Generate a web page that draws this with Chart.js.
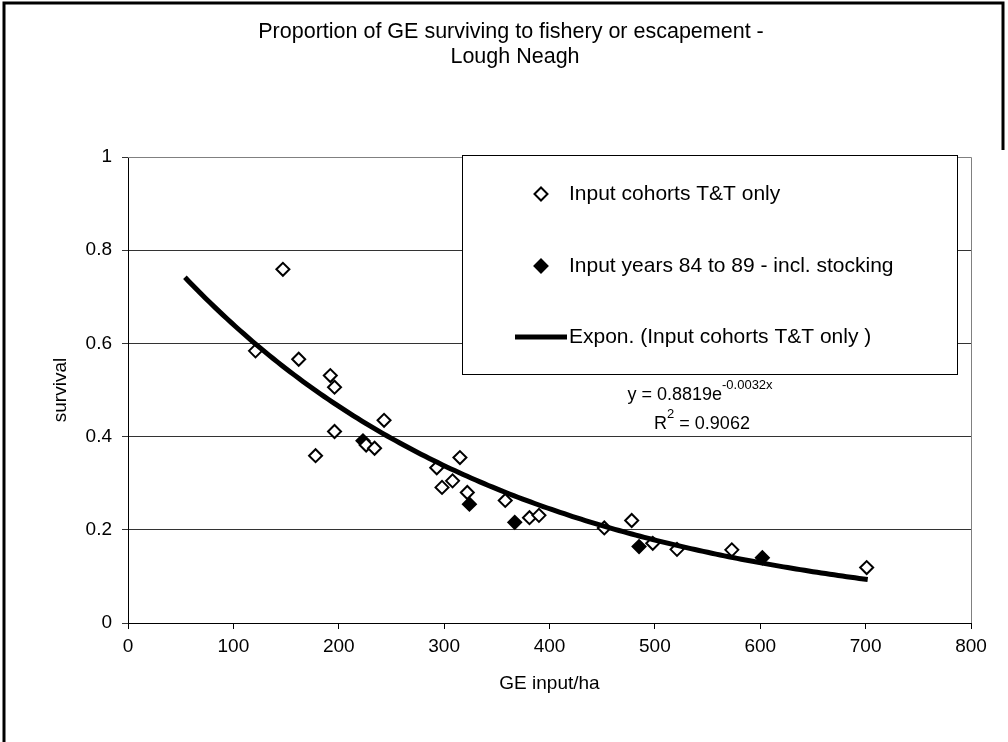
<!DOCTYPE html>
<html>
<head>
<meta charset="utf-8">
<script src="https://cdn.jsdelivr.net/npm/chart.js@4.4.1/dist/chart.umd.min.js"></script>
<style>
  html, body { margin: 0; padding: 0; background: #fff; }
  #wrap { position: relative; width: 1008px; height: 742px; }
</style>
</head>
<body>
<div id="wrap"><canvas id="survivalChart" width="1008" height="742"></canvas></div>
<script>
// cohorts with trap & transport only
const cohortInput    = [147, 121, 162, 192, 196, 243, 196, 178, 226, 234, 293, 315, 298, 308, 322, 358, 381, 390, 452, 478, 498, 521, 573, 701];
const cohortSurvival = [0.759, 0.584, 0.566, 0.531, 0.506, 0.435, 0.411, 0.359, 0.382, 0.375, 0.333, 0.355, 0.291, 0.305, 0.280, 0.263, 0.226, 0.231, 0.204, 0.220, 0.171, 0.158, 0.157, 0.119];

// input years 84 to 89, stocking included
const stockedInput    = [223, 324, 367, 485, 602];
const stockedSurvival = [0.391, 0.255, 0.216, 0.164, 0.140];

// exponential trendline fitted on the cohorts: y = a * e^(b * x)
const trendA = 0.8819;
const trendB = -0.0032;
const trendR2 = 0.9062;
const trendFrom = 54;
const trendTo = 702;

const xTicks = [0, 100, 200, 300, 400, 500, 600, 700, 800];
const yTicks = [0, 0.2, 0.4, 0.6, 0.8, 1];

const labels = [
  'Input cohorts T&T only',
  'Input years 84 to 89 - incl. stocking',
  'Expon. (Input cohorts T&T only )'
];

const FONT = 'Liberation Sans, Arial, sans-serif';

const trendPoints = [];
for (let x = trendFrom; x <= trendTo; x += 4) {
  trendPoints.push({ x: x, y: trendA * Math.exp(trendB * x) });
}

function pairs(xs, ys) {
  return xs.map((x, i) => ({ x: x, y: ys[i] }));
}

function diamond(ctx, x, y, r, fill) {
  ctx.beginPath();
  ctx.moveTo(x - r, y);
  ctx.lineTo(x, y - r);
  ctx.lineTo(x + r, y);
  ctx.lineTo(x, y + r);
  ctx.closePath();
  ctx.fillStyle = fill;
  ctx.fill();
  ctx.lineWidth = 2;
  ctx.strokeStyle = '#000';
  ctx.stroke();
}

// text with a raised small part, centred on cx
function supText(ctx, parts, cx, y) {
  const big = '18px ' + FONT, small = '13px ' + FONT;
  let total = 0;
  parts.forEach(p => { ctx.font = p.sup ? small : big; p.w = ctx.measureText(p.t).width; total += p.w; });
  let x = cx - total / 2;
  parts.forEach(p => {
    ctx.font = p.sup ? small : big;
    ctx.fillText(p.t, x, p.sup ? y - 10 : y);
    x += p.w;
  });
}

// titles, frame, legend box and the trendline equation
const decorations = {
  id: 'decorations',
  beforeDraw(chart) {
    const ctx = chart.ctx;
    ctx.save();
    ctx.fillStyle = '#fff';
    ctx.fillRect(0, 0, chart.width, chart.height);
    ctx.restore();
  },
  afterDatasetsDraw(chart) {
    const ctx = chart.ctx;
    const area = chart.chartArea;
    ctx.save();

    // plot area border (top and right)
    ctx.strokeStyle = '#808080';
    ctx.lineWidth = 1;
    ctx.beginPath();
    ctx.moveTo(area.left, area.top + 0.5);
    ctx.lineTo(area.right + 0.5, area.top + 0.5);
    ctx.lineTo(area.right + 0.5, area.bottom);
    ctx.stroke();

    // outer frame
    ctx.strokeStyle = '#000';
    ctx.lineWidth = 3;
    ctx.beginPath();
    ctx.moveTo(4, chart.height);
    ctx.lineTo(4, 3);
    ctx.lineTo(1003, 3);
    ctx.lineTo(1003, 150);
    ctx.stroke();

    // chart title
    ctx.fillStyle = '#000';
    ctx.font = '21.5px ' + FONT;
    ctx.textAlign = 'center';
    ctx.textBaseline = 'middle';
    ctx.fillText('Proportion of GE surviving to fishery or escapement -', 511, 32);
    ctx.fillText('Lough Neagh', 515, 57);

    // axis titles
    ctx.font = '19px ' + FONT;
    ctx.fillText('GE input/ha', (area.left + area.right) / 2, 684);
    ctx.save();
    ctx.translate(61, (area.top + area.bottom) / 2);
    ctx.rotate(-Math.PI / 2);
    ctx.fillText('survival', 0, 0);
    ctx.restore();

    // legend
    const box = { left: 462, top: 155, right: 957, bottom: 374 };
    ctx.fillStyle = '#fff';
    ctx.fillRect(box.left, box.top, box.right - box.left, box.bottom - box.top);
    ctx.strokeStyle = '#000';
    ctx.lineWidth = 1;
    ctx.strokeRect(box.left + 0.5, box.top + 0.5, box.right - box.left, box.bottom - box.top);

    const rows = [194, 266, 337];
    diamond(ctx, 541, rows[0], 6.5, '#fff');
    diamond(ctx, 541, rows[1], 6.5, '#000');
    ctx.lineWidth = 5;
    ctx.beginPath();
    ctx.moveTo(515, rows[2]);
    ctx.lineTo(567, rows[2]);
    ctx.stroke();

    ctx.fillStyle = '#000';
    ctx.font = '21px ' + FONT;
    ctx.textAlign = 'left';
    labels.forEach((t, i) => ctx.fillText(t, 569, rows[i]));

    // trendline equation and R squared
    supText(ctx, [{ t: 'y = ' + trendA + 'e' }, { t: trendB + 'x', sup: true }], 700, 395);
    supText(ctx, [{ t: 'R' }, { t: '2', sup: true }, { t: ' = ' + trendR2 }], 702, 424);

    ctx.restore();
  }
};

new Chart(document.getElementById('survivalChart'), {
  type: 'scatter',
  data: {
    datasets: [
      {
        type: 'line',
        label: labels[2],
        data: trendPoints,
        borderColor: '#000',
        borderWidth: 5,
        pointRadius: 0,
        tension: 0,
        order: 0
      },
      {
        label: labels[0],
        data: pairs(cohortInput, cohortSurvival),
        pointStyle: 'rectRot',
        pointRadius: 6.5,
        pointBackgroundColor: '#fff',
        pointBorderColor: '#000',
        pointBorderWidth: 2,
        order: 1
      },
      {
        label: labels[1],
        data: pairs(stockedInput, stockedSurvival),
        pointStyle: 'rectRot',
        pointRadius: 6.5,
        pointBackgroundColor: '#000',
        pointBorderColor: '#000',
        pointBorderWidth: 2,
        order: 2
      }
    ]
  },
  options: {
    responsive: false,
    animation: false,
    devicePixelRatio: 1,
    layout: { padding: { top: 157, right: 37, left: 0, bottom: 0 } },
    plugins: {
      legend: { display: false },
      title: { display: false },
      tooltip: { enabled: false }
    },
    scales: {
      x: {
        type: 'linear',
        min: 0,
        max: 800,
        afterBuildTicks: s => { s.ticks = xTicks.map(v => ({ value: v })); },
        afterFit: s => { s.height = 119; },
        grid: { drawOnChartArea: false, drawTicks: true, tickLength: 6, color: '#000' },
        border: { color: '#000', width: 1 },
        ticks: { color: '#000', padding: 6, maxRotation: 0, font: { family: FONT, size: 19 } }
      },
      y: {
        type: 'linear',
        min: 0,
        max: 1,
        afterBuildTicks: s => { s.ticks = yTicks.map(v => ({ value: v })); },
        afterFit: s => { s.width = 128; },
        grid: { color: '#333', lineWidth: 1, tickLength: 6 },
        border: { color: '#000', width: 1 },
        ticks: {
          color: '#000',
          padding: 10,
          font: { family: FONT, size: 19 },
          callback: v => String(Math.round(v * 10) / 10)
        }
      }
    }
  },
  plugins: [decorations]
});
</script>
</body>
</html>
